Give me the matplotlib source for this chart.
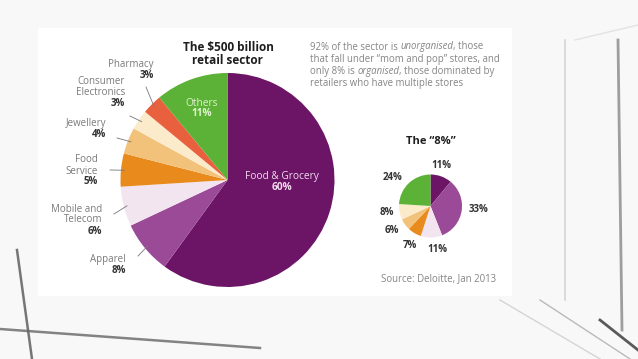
import numpy as np
import matplotlib
matplotlib.use("Agg")
import matplotlib.pyplot as plt
from matplotlib.patches import Rectangle
from matplotlib.lines import Line2D

plt.rcParams['font.family'] = ['Open Sans', 'DejaVu Sans']

# ---------------- data ----------------
big_labels = ["Food & Grocery", "Apparel", "Mobile and\nTelecom", "Food\nService",
              "Jewellery", "Consumer\nElectronics", "Pharmacy", "Others"]
big_values = [60, 8, 6, 5, 4, 3, 3, 11]
big_colors = ["#6C1465", "#9A4A96", "#F2E5F0", "#E88A1C", "#F2C27A", "#FCEBCB", "#E8603E", "#5CB236"]

small_values = [11, 33, 11, 7, 6, 8, 24]
small_colors = ["#6C1465", "#9A4A96", "#F2E5F0", "#E88A1C", "#F2C27A", "#FCEBCB", "#5CB236"]

title_big = "The $500 billion\nretail sector"
title_small = "The \u201c8%\u201d"
# note paragraph: list of lines, each a list of (text, italic)
note = [
    [("92% of the sector is ", False), ("unorganised", True), (", those", False)],
    [("that fall under \u201cmom and pop\u201d stores, and", False)],
    [("only 8% is ", False), ("organised", True), (", those dominated by", False)],
    [("retailers who have multiple stores", False)],
]
source = "Source: Deloitte, Jan 2013"

W, H = 638, 359
fig = plt.figure(figsize=(W / 100, H / 100), dpi=100, facecolor="#f9f9f9")
ax = fig.add_axes([0, 0, 1, 1])
ax.set_xlim(0, W)
ax.set_ylim(0, H)
ax.axis("off")

def Y(y):
    return H - y

# background decoration
ax.add_patch(Rectangle((0, 0), W, H, facecolor="#f8f8f8", edgecolor="none", zorder=0))
ax.add_patch(Rectangle((38, Y(296)), 474, 268, facecolor="white", edgecolor="none", zorder=0.5))
for (x0, y0, x1, y1, c, lw) in [
    (17, 250, 32, 359, "#555555", 1.8),
    (0, 329, 260, 348, "#666666", 1.8),
    (565, 40, 565, 300, "#cccccc", 1.2),
    (618, 40, 622, 330, "#888888", 2.0),
    (575, 40, 638, 25, "#dddddd", 1.0),
    (500, 300, 600, 359, "#cccccc", 1.0),
    (540, 300, 630, 359, "#aaaaaa", 1.0),
    (600, 320, 638, 350, "#333333", 2.0),
]:
    ax.add_line(Line2D([x0, x1], [Y(y0), Y(y1)], color=c, lw=lw, zorder=0.3, alpha=0.8))

# ---------------- big pie ----------------
cx, cy, R = 227.5, Y(180), 107
ax.pie(big_values, colors=big_colors, startangle=90, counterclock=False,
       center=(cx, cy), radius=R, frame=True,
       wedgeprops=dict(linewidth=0, edgecolor="none"))

# ---------------- small pie ----------------
scx, scy, sR = 430.5, Y(206), 31.5
ax.pie(small_values, colors=small_colors, startangle=90, counterclock=False,
       center=(scx, scy), radius=sR, frame=True,
       wedgeprops=dict(linewidth=0, edgecolor="none"))

ax.set_xlim(0, W)
ax.set_ylim(0, H)
ax.set_aspect("auto")
ax.axis("off")

GRAY = "#7a7a7a"
DARK = "#333333"
fs = 7

# titles
ax.text(228, Y(54), title_big, ha="center", va="center", fontsize=8.5,
        fontweight="bold", color="#1e1e1e", linespacing=0.95)
ax.text(431, Y(142), title_small, ha="center", va="center", fontsize=8,
        fontweight="bold", color="#1e1e1e")

# note paragraph with italic words
renderer = fig.canvas.get_renderer()
for i, segs in enumerate(note):
    x = 310
    for txt, it in segs:
        t = ax.text(x, Y(47 + 12.2 * i), txt, ha="left", va="center", fontsize=6.9,
                    color="#858585", style="italic" if it else "normal")
        bb = t.get_window_extent(renderer=renderer)
        x += bb.width

ax.text(496, Y(279), source, ha="right", va="center", fontsize=6.9, color="#858585")

# big pie labels
cum = np.cumsum([0] + big_values[:-1])
def edge_point(i, r=1.0):
    mid = cum[i] + big_values[i] / 2
    ang = np.deg2rad(90 - 360 * mid / 100)
    return cx + R * r * np.cos(ang), cy + R * r * np.sin(ang)

label_pos = {
    1: (126, 259.3),
    2: (102.5, 209),
    3: (97.6, 160),
    4: (106.6, 123.3),
    5: (125, 81.7),
    6: (153.8, 65),
}
leader_start = {
    1: (138, 256),
    2: (114, 214),
    3: (110, 170),
    4: (117, 138),
    5: (130, 116),
    6: (146, 87),
}
for i, (xr, y0) in label_pos.items():
    name_lines = big_labels[i].split("\n")
    for k, nl in enumerate(name_lines):
        ax.text(xr, Y(y0 + 11 * k), nl, ha="right", va="center", fontsize=fs, color=GRAY)
    ax.text(xr, Y(y0 + 11 * len(name_lines)), f"{big_values[i]}%", ha="right", va="center",
            fontsize=fs, fontweight="bold", color=DARK)
    ex, ey = edge_point(i, 0.97)
    sx, sy = leader_start[i]
    ax.add_line(Line2D([sx, ex], [Y(sy), ey], color="#777777", lw=0.6, zorder=1))

# inside labels
ax.text(201.5, Y(103), "Others", ha="center", va="center", fontsize=fs + 0.3, color="#dff2cf")
ax.text(201.5, Y(114), f"{big_values[7]}%", ha="center", va="center", fontsize=fs + 0.3,
        fontweight="bold", color="#dff2cf")
ax.text(282, Y(176.7), "Food & Grocery", ha="center", va="center", fontsize=fs + 0.3, color="#f3dcf0")
ax.text(282, Y(187.7), f"{big_values[0]}%", ha="center", va="center", fontsize=fs + 0.3,
        fontweight="bold", color="#f3dcf0")

# small pie labels
small_label_pos = [(441, 165), (479, 210), (437.3, 249.3), (410, 245), (391.8, 230.7),
                   (386.5, 212.3), (392.6, 177.7)]
for v, (x, y) in zip(small_values, small_label_pos):
    ax.text(x, Y(y), f"{v}%", ha="center", va="center", fontsize=fs, fontweight="bold", color=DARK)

fig.savefig("out.png", dpi=100, facecolor=fig.get_facecolor())
